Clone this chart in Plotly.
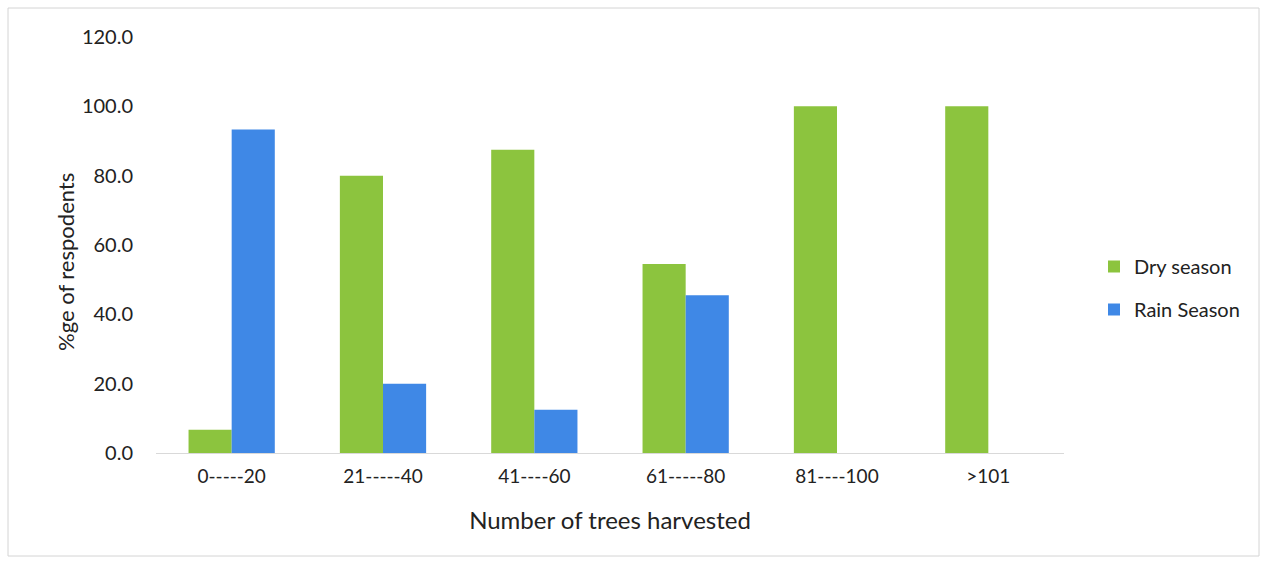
import plotly.graph_objects as go

categories = ["0-----20", "21-----40", "41----60", "61-----80", "81----100", ">101"]
dry_season = [6.7, 80.0, 87.5, 54.5, 100.0, 100.0]
rain_season = [93.3, 20.0, 12.5, 45.5, 0, 0]
y_ticks = [0, 20, 40, 60, 80, 100, 120]

W, H = 1266, 566
L, R, T, B = 156, 202, 37, 113
FONT = "Lato, 'Open Sans', sans-serif"

fig = go.Figure()
fig.add_trace(go.Bar(name="Dry season", x=categories, y=dry_season,
                     legendgroup="dry",
                     marker=dict(color="#8CC43E", line=dict(width=0))))
fig.add_trace(go.Bar(name="Rain Season", x=categories, y=rain_season,
                     legendgroup="rain",
                     marker=dict(color="#3F88E6", line=dict(width=0))))

# helpers to place items in pixel terms relative to the plotting area
pw, ph = W - L - R, H - T - B
def px_x(p): return (p - L) / pw
def px_y(p): return (H - B - p) / ph

# outer frame around the whole chart
fig.add_shape(type="rect", xref="paper", yref="paper",
              x0=px_x(8), x1=px_x(1259), y0=px_y(556), y1=px_y(8),
              line=dict(color="#d4d4d4", width=1), fillcolor="rgba(0,0,0,0)",
              layer="below")

# vertical axis title
fig.add_annotation(text="%ge of respodents", xref="paper", yref="paper",
                   x=px_x(65), y=px_y(262), textangle=-90, showarrow=False,
                   xanchor="center", yanchor="middle",
                   font=dict(size=22, color="#222222", family=FONT))

fig.update_layout(
    width=W, height=H,
    margin=dict(l=L, r=R, t=T, b=B, autoexpand=False),
    paper_bgcolor="white", plot_bgcolor="white",
    barmode="group", bargap=0.43, bargroupgap=0,
    font=dict(family=FONT, size=19, color="#222222"),
    showlegend=True,
    legend=dict(x=px_x(1094), y=px_y(288), xanchor="left", yanchor="middle",
                font=dict(size=20), itemwidth=30, tracegroupgap=14,
                bgcolor="rgba(0,0,0,0)"),
    xaxis=dict(title=dict(text="Number of trees harvested", standoff=26,
                          font=dict(size=24)),
               showline=True, linecolor="#d9d9d9", linewidth=1,
               showgrid=False, ticks="", ticklabelstandoff=6),
    yaxis=dict(range=[0, 120], tickvals=y_ticks, tickformat=".1f",
               tickfont=dict(size=20),
               showgrid=False, zeroline=False, showline=False,
               ticks="", ticklabelstandoff=22),
)

fig.write_html("out.html")
